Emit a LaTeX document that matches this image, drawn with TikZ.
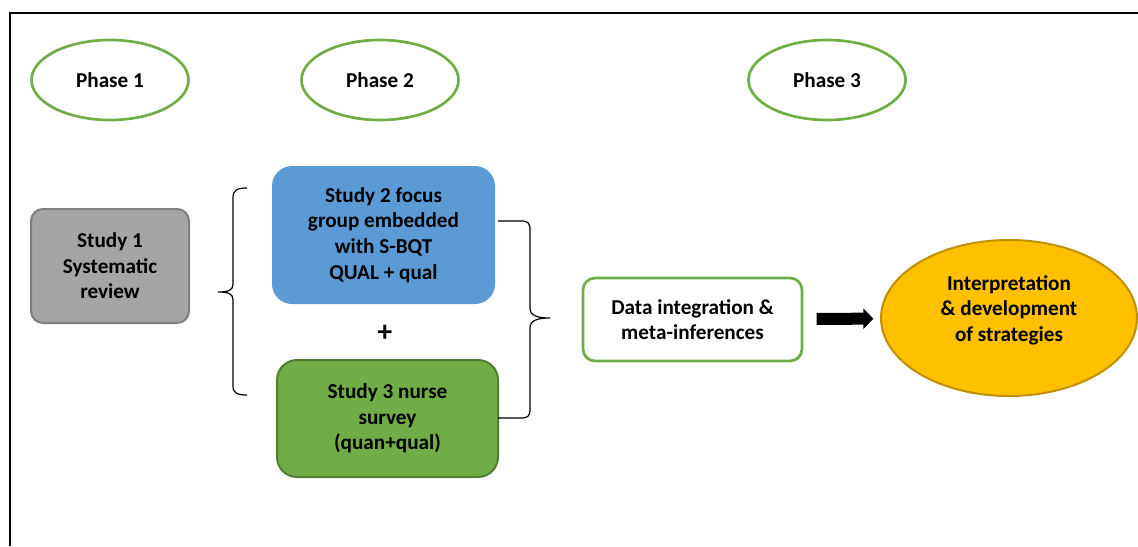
\documentclass[tikz,border=0pt]{standalone}
\usepackage{fontspec}
\setmainfont{Carlito}
\usetikzlibrary{shapes.geometric, arrows.meta}

\definecolor{phasegreen}{HTML}{70AD47}
\definecolor{darkgreen}{HTML}{507E32}
\definecolor{boxblue}{HTML}{5B9BD5}
\definecolor{boxgray}{HTML}{A5A5A5}
\definecolor{edgegray}{HTML}{7F7F7F}
\definecolor{gold}{HTML}{FFC000}
\definecolor{darkgold}{HTML}{BF9000}

\tikzset{
  txt/.style={font=\fontsize{15.9}{19.2}\selectfont\bfseries, align=center, text=black},
  phase/.style={txt, ellipse, draw=phasegreen, line width=2pt, fill=white,
    minimum width=117.75pt, minimum height=60pt},
  studybox/.style={txt, rectangle, rounded corners=9pt, inner sep=0pt}
}

\begin{document}
\begin{tikzpicture}[x=0.75pt,y=-0.75pt]
\useasboundingbox (0,0) rectangle (1138,546);
\draw[line width=1.5pt] (10,546) -- (10,13) -- (1138,13);

% phases
\node[phase] (ph1) at (110,80) {Phase 1};
\node[phase] (ph2) at (380,80) {Phase 2};
\node[phase] (ph3) at (827,80) {Phase 3};

% studies
\node[studybox, fill=boxgray, draw=edgegray, line width=1.5pt,
  minimum width=118.5pt, minimum height=85.5pt] (s1) at (110,266)
  {Study 1\\Systematic\\review};
\node[studybox, fill=boxblue, rounded corners=15pt,
  minimum width=167.25pt, minimum height=103.5pt] (s2) at (383.5,235)
  {Study 2 focus\\group embedded\\with S-BQT\\QUAL + qual};
\node[txt, font=\fontsize{22}{24}\selectfont\bfseries] (plus) at (385,333) {+};
\node[studybox, fill=phasegreen, draw=darkgreen, line width=1.5pt, rounded corners=15pt,
  minimum width=165.75pt, minimum height=87.75pt] (s3) at (387.5,418.5)
  {Study 3 nurse\\survey\\(quan+qual)};

% braces
\draw[line width=0.9pt] (247,188) .. controls (237,188) and (233,190) .. (233,198)
  -- (233,284) .. controls (233,290) and (229,292) .. (218,292)
  .. controls (229,292) and (233,294) .. (233,300)
  -- (233,386) .. controls (233,393) and (237,395) .. (247,395);
\draw[line width=0.9pt] (498,221) -- (521,221) .. controls (528,221) and (530,223) .. (530,230)
  -- (530,308) .. controls (530,315) and (536,318) .. (550,318)
  .. controls (536,318) and (530,321) .. (530,328)
  -- (530,409) .. controls (530,416) and (528,418) .. (521,418) -- (498,418);

% integration and outcome
\node[studybox, fill=white, draw=phasegreen, line width=2pt,
  minimum width=164.25pt, minimum height=62.25pt] (data) at (692.5,319.5)
  {Data integration \&\\meta-inferences};
\node[ellipse, fill=gold, draw=darkgold, line width=1.5pt,
  minimum width=192pt, minimum height=117pt] (interp) at (1009,318) {};
\node[txt] (interptext) at (1009,310) {Interpretation\\\& development\\of strategies};

\draw[line width=9pt, -{Triangle[length=7.5pt,width=15pt]},
  shorten <=10pt, shorten >=5pt] (data) -- (interp);
\end{tikzpicture}
\end{document}
